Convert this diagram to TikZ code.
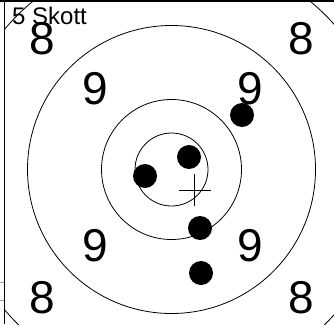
\documentclass[tikz,border=0pt]{standalone}
\usepackage{fontspec}
\setmainfont{Liberation Sans}
\definecolor{tickgray}{HTML}{A0A0A0}

\begin{document}
\begin{tikzpicture}[x=1pt,y=-1pt,
    ring/.style={line width=0.8pt},
    ringnum/.style={inner sep=0pt,font=\fontsize{46}{46}\selectfont},
    shot/.style={circle,fill=black,inner sep=0pt,minimum size=24pt}]
  \useasboundingbox (0,0) rectangle (334,324);
  \coordinate (centre) at (171.5,169.5);
  % rings
  \begin{scope}
    \clip (5,2) rectangle (334,324);
    \draw[ring] (centre) circle[radius=36.5];
    \draw[ring] (centre) circle[radius=70];
    \draw[ring] (centre) circle[radius=144];
    \draw[ring] (centre) circle[radius=218];
  \end{scope}
  % frame
  \draw[line width=1.4pt] (0,1) -- (334,1);
  \draw[line width=1.2pt] (4.5,0) -- (4.5,324);
  \draw[tickgray,line width=0.8pt] (0,282) -- (4,282);
  \draw[tickgray,line width=0.8pt] (0,300) -- (4,300);
  % ring numbers
  \node[ringnum] (eightNW) at (42,39) {8};
  \node[ringnum] (eightNE) at (301,39) {8};
  \node[ringnum] (eightSW) at (42,298) {8};
  \node[ringnum] (eightSE) at (301,298) {8};
  \node[ringnum] (nineNW) at (95,89) {9};
  \node[ringnum] (nineNE) at (250,89) {9};
  \node[ringnum] (nineSW) at (95,246) {9};
  \node[ringnum] (nineSE) at (250,246) {9};
  % title
  \node[anchor=base west,inner sep=0pt,font=\fontsize{24}{24}\selectfont]
    (title) at (12,24) {5 Skott};
  % shots
  \node[shot] (shotA) at (189,157) {};
  \node[shot] (shotB) at (145,176) {};
  \node[shot] (shotC) at (200,228) {};
  \node[shot] (shotD) at (242,115) {};
  \node[shot] (shotE) at (201,273) {};
  % mean point of impact
  \coordinate (mpi) at (194.5,190);
  \draw[line width=1pt] ([xshift=-16pt]mpi) -- ([xshift=16pt]mpi);
  \draw[line width=1pt] ([yshift=-16pt]mpi) -- ([yshift=16pt]mpi);
\end{tikzpicture}
\end{document}
